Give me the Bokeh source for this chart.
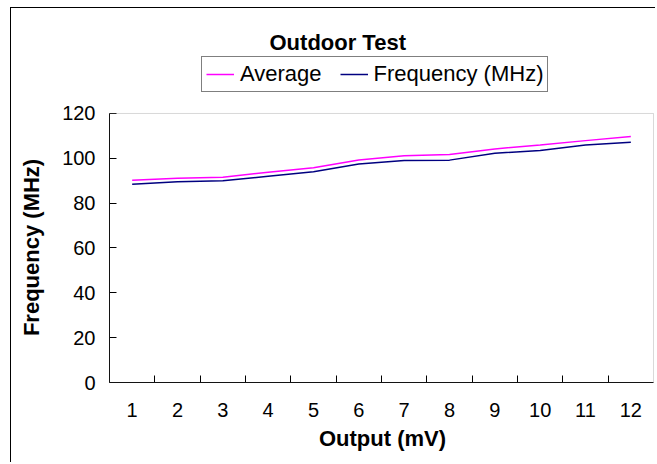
from bokeh.plotting import figure
from bokeh.models import (Range1d, FixedTicker, Legend, LegendItem, Label, BoxAnnotation)
from bokeh.embed import file_html
from bokeh.resources import INLINE

# ---- data ----
outputs = [1, 2, 3, 4, 5, 6, 7, 8, 9, 10, 11, 12]
average = [90.2, 91.1, 91.6, 93.8, 95.8, 99.3, 101.2, 101.7, 104.2, 106.0, 107.9, 109.7]
frequency = [88.4, 89.5, 90.0, 92.0, 94.0, 97.5, 99.0, 99.2, 102.3, 103.5, 105.9, 107.2]
y_ticks = [0, 20, 40, 60, 80, 100, 120]
x_boundaries = [1.5, 2.5, 3.5, 4.5, 5.5, 6.5, 7.5, 8.5, 9.5, 10.5, 11.5]

title_text = "Outdoor Test"
x_title = "Output (mV)"
y_title = "Frequency (MHz)"
series_names = ["Average", "Frequency (MHz)"]

FONT = "Liberation Sans"

Y_MAX = 120
Y_TOP = 166.84   # extra room above the plot area for title and legend

p = figure(width=645, height=455, output_backend="svg", toolbar_location=None,
           title=None,
           x_range=Range1d(0.5, 12.544), y_range=Range1d(0, Y_TOP),
           min_border_left=98, min_border_right=1, min_border_top=0,
           min_border_bottom=81)
p.styles = {"border-left": "1px solid black", "border-top": "1px solid black",
            "margin-left": "10px", "margin-top": "7px"}

p.background_fill_color = "white"
p.border_fill_color = "white"
p.outline_line_color = None
p.xgrid.visible = False
p.ygrid.visible = False

# plot-area frame (grey, Excel style)
area = BoxAnnotation(left=0.5, right=12.5, bottom=0, top=Y_MAX,
                     fill_alpha=0, line_color="#808080", line_width=1)
p.add_layout(area)

# lines
r_avg = p.line(outputs, average, line_color="#FF00FF", line_width=1.5)
r_freq = p.line(outputs, frequency, line_color="#000080", line_width=1.5)

# x axis
xa = p.xaxis[0]
xa.bounds = (0.5, 12.5)
xa.ticker = FixedTicker(ticks=outputs, minor_ticks=x_boundaries)
xa.major_tick_line_color = None
xa.minor_tick_in = 7
xa.minor_tick_out = 0
xa.minor_tick_line_color = "black"
xa.axis_line_color = "black"
xa.major_label_text_font = FONT
xa.major_label_text_font_size = "20px"
xa.major_label_text_color = "black"
xa.major_label_standoff = 14
xa.axis_label = x_title
xa.axis_label_text_font = FONT
xa.axis_label_text_font_size = "22px"
xa.axis_label_text_font_style = "bold"
xa.axis_label_text_color = "black"
xa.axis_label_standoff = 6

# y axis (label padded so it stays centred on the 0-120 plot area)
ya = p.yaxis[0]
ya.bounds = (0, Y_MAX)
ya.ticker = FixedTicker(ticks=y_ticks)
ya.major_tick_in = 7
ya.major_tick_out = 0
ya.major_tick_line_color = "black"
ya.minor_tick_line_color = None
ya.axis_line_color = "black"
ya.major_label_text_font = FONT
ya.major_label_text_font_size = "20px"
ya.major_label_text_color = "black"
ya.major_label_standoff = 14
ya.axis_label = y_title + "\u00a0" * 17
ya.axis_label_text_font = FONT
ya.axis_label_text_font_size = "22px"
ya.axis_label_text_font_style = "bold"
ya.axis_label_text_color = "black"
ya.axis_label_standoff = 15

# legend
legend = Legend(items=[LegendItem(label=series_names[0], renderers=[r_avg]),
                       LegendItem(label=series_names[1], renderers=[r_freq])],
                location=(92, 290), orientation="horizontal",
                label_text_font=FONT, label_text_font_size="22px",
                label_text_color="black",
                glyph_width=28, glyph_height=20, label_height=20,
                label_standoff=6, spacing=18, padding=4, margin=0,
                border_line_color="black", border_line_width=1,
                background_fill_color="white", background_fill_alpha=1.0)
p.add_layout(legend)

# title (added after the legend so it is drawn on top)
title = Label(x=160, y=340, x_units="screen", y_units="screen", text=title_text,
              text_font=FONT, text_font_size="22px", text_font_style="bold",
              text_color="black", text_align="left", text_baseline="alphabetic")
p.add_layout(title)

open("out.html", "w").write(file_html(p, INLINE))
